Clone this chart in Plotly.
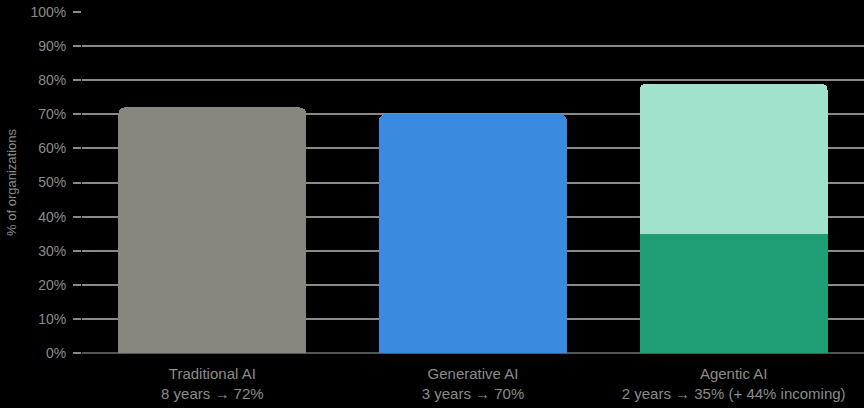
import plotly.graph_objects as go

categories = ["Traditional AI<br>8 years → 72%",
              "Generative AI<br>3 years → 70%",
              "Agentic AI<br>2 years → 35% (+ 44% incoming)"]
deployed = [72, 70, 35]
incoming_cat = [categories[2]]
incoming = [44]
bar_colors = ["#878780", "#3a8ae0", "#1f9d74"]
incoming_color = "#a0e2cb"
y_ticks = list(range(0, 101, 10))
y_tick_text = [f"{v}%" for v in y_ticks]

fig = go.Figure()

fig.add_trace(go.Bar(
    x=categories,
    y=deployed,
    marker=dict(color=bar_colors, line=dict(width=0)),
    name="Deployed",
    width=0.72,
))
fig.add_trace(go.Bar(
    x=incoming_cat,
    y=incoming,
    marker=dict(color=incoming_color, line=dict(width=0)),
    name="Incoming",
    width=0.72,
))

fig.update_layout(
    barmode="stack",
    barcornerradius=6,
    showlegend=False,
    width=864,
    height=408,
    margin=dict(l=82, r=0, t=12, b=55),
    plot_bgcolor="black",
    paper_bgcolor="black",
    font=dict(family="Liberation Sans, Arial, sans-serif", color="#8c8c8c", size=13),
    xaxis=dict(
        showgrid=False,
        showline=False,
        zeroline=False,
        ticklabelstandoff=10,
        tickfont=dict(size=15, color="#8c8c8c"),
    ),
    yaxis=dict(
        range=[0, 100],
        tickmode="array",
        tickvals=y_ticks,
        ticktext=y_tick_text,
        showgrid=True,
        gridcolor="#8a8a84",
        gridwidth=2,
        zeroline=True,
        zerolinecolor="#555555",
        zerolinewidth=2,
        ticks="outside",
        ticklen=8,
        tickcolor="#8a8a84",
        tickwidth=2,
        ticklabelstandoff=4,
        tickfont=dict(size=14, color="#8c8c8c"),
        title=dict(text="% of organizations", font=dict(size=13, color="#8c8c8c"), standoff=10),
    ),
)

# page margin off so the figure fills the window
fig.write_html("out.html",
               config={"displayModeBar": False},
               post_script="document.body.style.margin='0';document.body.style.background='black';")
